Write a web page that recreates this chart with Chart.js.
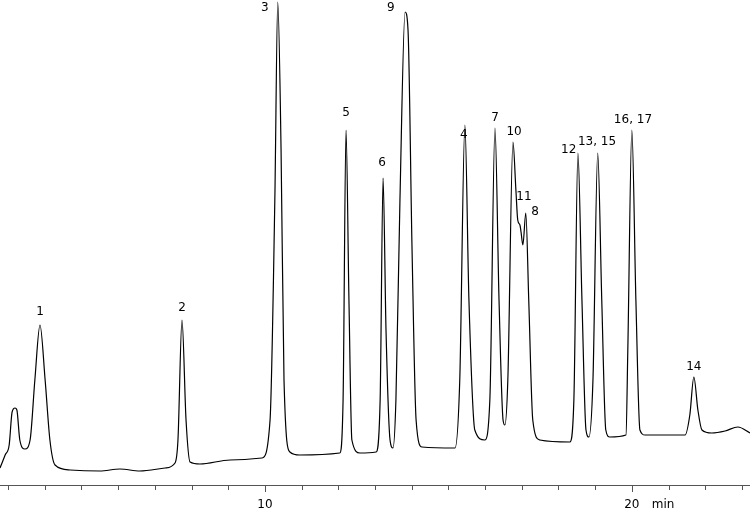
<!DOCTYPE html>
<html><head><meta charset="utf-8">
<script src="https://cdn.jsdelivr.net/npm/chart.js@4"></script>
<style>html,body{margin:0;padding:0;background:#fff}#w{width:750px;height:513px}</style>
</head><body><div id="w"><canvas id="c"></canvas></div>
<script>
const times = [2.78,2.92,3.03,3.11,3.19,3.24,3.32,3.46,3.60,3.73,3.87,4.01,4.14,4.28,4.69,5.50,6.05,6.59,7.28,7.55,7.63,7.74,7.85,7.96,8.23,9.05,9.92,10.14,10.27,10.35,10.44,10.52,10.68,10.95,12.04,12.13,12.21,12.29,12.37,12.59,13.03,13.14,13.22,13.30,13.41,13.49,13.57,13.68,13.82,13.90,14.01,14.12,14.28,15.18,15.31,15.45,15.56,15.72,15.99,16.13,16.27,16.38,16.49,16.54,16.62,16.76,16.84,16.89,16.95,16.98,17.03,17.11,17.19,17.30,17.49,18.31,18.42,18.53,18.64,18.75,18.83,18.94,19.07,19.18,19.29,19.40,19.84,19.89,20.00,20.11,20.22,20.36,21.45,21.58,21.69,21.80,21.91,22.18,22.54,22.89,23.22];
const signal = [19,32,42,75,79,77,47,38,47,107,162,107,47,22,17,16,18,16,19,24,47,167,67,25,23,27,29,67,287,485,337,107,35,32,34,87,357,187,47,34,35,87,309,157,47,39,87,287,475,457,237,67,40,39,107,362,187,57,47,87,359,187,67,62,107,345,297,267,262,255,242,274,187,67,47,45,87,334,187,57,50,107,334,187,57,50,52,137,357,187,57,52,52,72,110,77,57,54,56,60,54];
const peakNames = ["1","2","3","5","6","9","4","7","10","11","8","12","13, 15","16, 17","14"];
const peakTimes = [3.87,7.74,10.00,12.21,13.19,13.43,15.42,16.27,16.79,17.06,17.36,18.28,19.05,20.03,21.69];
const peakLabelHeights = [175,179,479,374,324,479,352,369,355,290,275,337,345,367,120];
const axisMin = 2.78, axisMax = 23.22;

const deco = {
  id:'deco',
  afterDraw(ch){
    const ctx = ch.ctx, x = ch.scales.x, y = ch.scales.y, b = ch.chartArea.bottom;
    ctx.save();
    ctx.strokeStyle = '#555'; ctx.lineWidth = 1;
    ctx.beginPath(); ctx.moveTo(0,b+0.5); ctx.lineTo(750,b+0.5); ctx.stroke();
    for(let t=3;t<=23;t++){
      const px = Math.round(x.getPixelForValue(t))+0.5;
      ctx.beginPath(); ctx.moveTo(px,b); ctx.lineTo(px,b+(t%10===0?7:5)); ctx.stroke();
    }
    ctx.fillStyle='#000'; ctx.font='12px "DejaVu Sans"'; ctx.textAlign='center'; ctx.textBaseline='top';
    ctx.fillText('10', x.getPixelForValue(10), b+14);
    ctx.fillText('20', x.getPixelForValue(20), b+14);
    ctx.textAlign='left'; ctx.fillText('min', x.getPixelForValue(20)+20, b+14);
    ctx.textAlign='center'; ctx.textBaseline='middle';
    peakNames.forEach((n,i)=>ctx.fillText(n, x.getPixelForValue(peakTimes[i]), y.getPixelForValue(peakLabelHeights[i])));
    ctx.restore();
  }
};

new Chart(document.getElementById('c'),{
  type:'line',
  data:{datasets:[{data:times.map((t,i)=>({x:t,y:signal[i]})),borderColor:'#000',borderWidth:1.2,pointRadius:0,cubicInterpolationMode:'monotone',fill:false,clip:false}]},
  options:{
    responsive:true,maintainAspectRatio:false,animation:false,
    layout:{padding:{left:0,right:0,top:0,bottom:28}},
    plugins:{legend:{display:false},tooltip:{enabled:false}},
    scales:{
      x:{type:'linear',min:axisMin,max:axisMax,display:false},
      y:{min:2,max:487,display:false}
    }
  },
  plugins:[deco]
});
</script></body></html>
